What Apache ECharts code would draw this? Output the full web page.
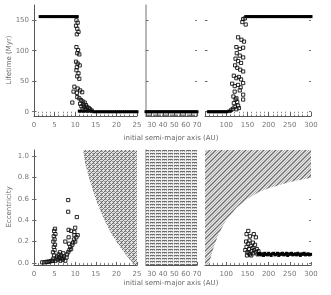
<!DOCTYPE html>
<html><head><meta charset="utf-8">
<script src="https://cdn.jsdelivr.net/npm/echarts@6/dist/echarts.min.js"></script>
<style>html,body{margin:0;padding:0;background:#fff}#c{width:331px;height:295px}</style>
</head><body><div id="c"></div>
<script>
// ---------- data ----------
const lifeTicks = [0, 50, 100, 150];
const eccTicks = [0, 0.2, 0.4, 0.6, 0.8, 1.0];
const xRanges = [[0, 25], [25, 70], [50, 300]];

// lifetime (Myr) vs initial a (AU): saturated runs (dense, drawn solid)
const life1Run = [
[1.5,156],[2,156],[2.5,156],[3,156],[3.5,156],[4,156],[4.5,156],[5,156],[5.5,156],[6,156],[6.5,156],[7,156],[7.5,156],[8,156],[8.5,156],[9,156],[9.5,156],[10,156],[10.5,156],
[11,1],[11.5,1],[12,1],[12.5,1],[13,1],[13.5,1],[14,1],[14.5,0],[15,0],[15.5,0],[16,0],[16.5,0],[17,0],[17.5,0],[18,0],[18.5,0],[19,0],[19.5,0],[20,0],[20.5,0],[21,0],[21.5,0],[22,0],[22.5,0],[23,0],[23.5,0],[24,0],[24.5,0],[25,0]
];
// left panel, individual runs
const life1 = [
[10.3,150],[10.6,146],[10.2,141],[10.5,136],[10.8,131],[10.4,127],
[10.3,106],[10.7,101],[10.5,96],[11.0,94],
[10.2,82],[10.6,79],[11.1,76],[10.4,73],
[10.3,68],[10.8,63],[10.5,58],[11.0,54],
[9.8,41],[10.6,38],[11.2,35],[10.4,31],[11.7,32],
[9.3,15],[9.6,33],[10.5,24],[11.0,22],[11.4,19],[11.8,17],[12.3,15],[11.2,13],[12.0,12],[12.6,11],[11.5,9],[12.2,8],[12.9,8],[13.3,6],[11.8,5],[12.5,4],[13.0,3],[13.6,4],[14.0,2]
];
// middle panel
const life2Run = [
[25,0],[26.5,0],[28,0],[29.5,0],[31,0],[32.5,0],[34,0],[35.5,0],[37,0],[38.5,0],[40,0],[41.5,0],[43,0],[44.5,0],[46,0],[47.5,0],[49,0],[50.5,0],[52,0],[53.5,0],[55,0],[56.5,0],[58,0],[59.5,0],[61,0],[62.5,0],[64,0],[65.5,0],[67,0],[68.5,0],[70,0]
];
// right panel
const life3Run = [
[58,0],[62,0],[66,0],[70,0],[74,0],[78,0],[82,0],[86,0],[90,0],[94,0],[98,0],[102,0],[106,1],[110,1],
[146,156],[150,156],[154,156],[158,156],[162,156],[166,156],[170,156],[174,156],[178,156],[182,156],[186,156],[190,156],[194,156],[198,156],[202,156],[206,156],[210,156],[214,156],[218,156],[222,156],[226,156],[230,156],[234,156],[238,156],[242,156],[246,156],[250,156],[254,156],[258,156],[262,156],[266,156],[270,156],[274,156],[278,156],[282,156],[286,156],[290,156],[294,156],[298,156],[300,156]
];
const life3 = [
[112,3],[116,5],[120,8],[124,4],[128,10],[118,14],[126,16],[122,20],[130,6],
[117,25],[124,22],[140,28],[140,20],[120,33],[132,35],
[114,46],[120,42],[128,44],[134,40],[140,47],
[118,59],[124,55],[130,57],[135,53],
[121,76],[126,72],[133,69],[140,66],
[122,87],[128,83],[135,80],
[125,96],[132,92],[140,89],
[124,106],[132,103],[140,105],
[128,122],[136,118],[142,115],
[138,147],[146,143],[140,152],[144,153]
];

// final eccentricity vs initial a
const ecc1 = [
[2,0.005],[2.5,0.005],[3,0.01],[3.3,0.008],[3.6,0.012],[4,0.015],[4.3,0.02],[4.6,0.02],
[4.7,0.04],[4.9,0.07],[4.6,0.1],[5.0,0.12],[4.8,0.15],[5.1,0.17],[4.7,0.2],[5.0,0.22],[4.8,0.25],[5.2,0.27],[4.9,0.3],[5.1,0.32],
[5.2,0.02],[5.5,0.04],[5.8,0.03],[6.1,0.05],[6.4,0.02],[6.7,0.04],[7.0,0.03],[7.3,0.06],[7.6,0.02],[7.9,0.05],[5.6,0.06],[6.0,0.08],[6.3,0.1],[6.6,0.07],[7.1,0.09],[6.9,0.05],
[8.0,0.08],[8.3,0.1],[8.6,0.12],[8.8,0.15],[9.0,0.13],[9.3,0.17],[9.5,0.19],[9.7,0.22],[10.0,0.2],[10.3,0.24],[10.6,0.26],[8.5,0.18],[9.8,0.26],
[8.3,0.59],[8.3,0.48],[10.4,0.43],[8.4,0.31],[9.8,0.29],[9.0,0.3],[10.0,0.33],[7.6,0.2],[8.4,0.24]
];
const ecc3 = [
[145,0.12],[148,0.15],[150,0.1],[152,0.18],[154,0.13],[156,0.08],[158,0.16],[160,0.11],[162,0.14],[164,0.09],[166,0.12],[168,0.17],[170,0.1],[172,0.13],
[147,0.2],[155,0.21],[149,0.07],[159,0.07],[163,0.19],[174,0.08],[176,0.11],[153,0.09],
[148,0.27],[152,0.3],[156,0.25],[165,0.27],[170,0.24]
];
const ecc3Run = [
[176,0.08],[179,0.09],[182,0.075],[185,0.085],[188,0.07],[191,0.09],[194,0.08],[197,0.075],[200,0.09],[203,0.08],[206,0.07],[209,0.085],[212,0.09],[215,0.075],[218,0.08],[221,0.09],[224,0.07],[227,0.085],[230,0.08],[233,0.09],[236,0.075],[239,0.08],[242,0.09],[245,0.07],[248,0.085],[251,0.08],[254,0.09],[257,0.075],[260,0.08],[263,0.085],[266,0.075],[269,0.09],[272,0.08],[275,0.07],[278,0.085],[281,0.08],[284,0.09],[287,0.075],[290,0.08],[293,0.085],[296,0.075],[299,0.08]
];

// excluded (hatched) regions, as (a, e) outlines
const hatch1 = [[11.9,1.06],[12.5,0.92],[13.5,0.78],[15,0.6],[16,0.5],[17.5,0.37],[19,0.26],[20.5,0.17],[22,0.09],[23.5,0.02],[24.2,-0.02],[25,-0.02],[25,1.06]];
const hatch2 = [[25,-0.02],[70,-0.02],[70,1.06],[25,1.06]];
const hatch3 = [[50,1.06],[50,-0.02],[59,-0.02],[60,0],[70,0.14],[80,0.25],[90,0.33],[100,0.4],[125,0.52],[150,0.6],[175,0.66],[200,0.7],[250,0.76],[300,0.8],[300,1.06]];

// ---------- patterns ----------
function pat(w, h, draw) {
  const c = document.createElement('canvas'); c.width = w; c.height = h;
  draw(c.getContext('2d')); return { image: c, repeat: 'repeat' };
}
const patA = pat(4, 4, g => {
  g.fillStyle = '#e2e2e2'; g.fillRect(0, 0, 4, 4);
  g.fillStyle = '#9c9c9c';
  g.fillRect(0, 1, 3, 1); g.fillRect(1, 3, 2, 1);
  g.fillStyle = '#6a6a6a';
  g.fillRect(3, 0, 1, 1); g.fillRect(2, 1, 1, 1); g.fillRect(1, 2, 1, 1); g.fillRect(0, 3, 1, 1);
});
const patB = pat(6, 3, g => {
  g.fillStyle = '#eeeeee'; g.fillRect(0, 0, 6, 3);
  g.fillStyle = '#6e6e6e'; g.fillRect(0, 0, 5, 1);
  g.fillStyle = '#b4b4b4'; g.fillRect(0, 1, 1, 1); g.fillRect(2, 1, 1, 1); g.fillRect(4, 1, 1, 1);
});
const patC = pat(6, 6, g => {
  g.fillStyle = '#ececec'; g.fillRect(0, 0, 6, 6);
  g.fillStyle = '#b0b0b0';
  for (let y = 0; y < 6; y += 1) for (let x = y % 2; x < 6; x += 2) g.fillRect(x, y, 1, 1);
  g.fillStyle = '#6e6e6e';
  for (let i = 0; i < 6; i++) g.fillRect(5 - i, i, 1, 1);
});

// ---------- layout ----------
const font = 'DejaVu Sans';
const lab = { fontFamily: font, fontSize: 7, color: '#777' };
const cols = [{ left: 34, width: 103 }, { left: 146, width: 51 }, { left: 205, width: 106 }];
const rows = [{ top: 5, height: 111, min: -7, max: 175, ticks: lifeTicks }, { top: 150, height: 115, min: -0.02, max: 1.06, ticks: eccTicks }];
const grids = [], xAxes = [], yAxes = [], series = [];
const xIntervals = [5, 5, 50];
const xMinor = [5, 5, 5];
rows.forEach((r, ri) => cols.forEach((c, ci) => {
  const gi = ri * 3 + ci;
  grids.push({ left: c.left, width: c.width, top: r.top, height: r.height });
  xAxes.push({
    gridIndex: gi, type: 'value', min: xRanges[ci][0], max: xRanges[ci][1], interval: xIntervals[ci],
    axisLine: { show: true, onZero: false, lineStyle: { color: '#555', width: 1 } },
    axisTick: { inside: true, length: 3, lineStyle: { color: '#555' } },
    minorTick: { show: true, splitNumber: xMinor[ci], length: 1.5, lineStyle: { color: '#777' } },
    splitLine: { show: false },
    axisLabel: Object.assign({ margin: 6, formatter: v => (ci === 1 && v % 10 !== 0) || (ci === 2 && v === 50) ? '' : String(v) }, lab)
  });
  yAxes.push({
    gridIndex: gi, type: 'value', min: r.min, max: r.max,
    axisLine: { show: ci !== 2, onZero: false, lineStyle: { color: ci === 0 ? '#555' : '#a0a0a0', width: ci === 0 ? 1 : 1.5 } },
    axisTick: { show: true, inside: true, length: 2.5, customValues: r.ticks, lineStyle: { color: '#666' } },
    splitLine: { show: false },
    axisLabel: Object.assign({ show: ci === 0, margin: 5, customValues: r.ticks, formatter: v => ri === 1 ? v.toFixed(1) : String(v) }, lab)
  });
}));
// mirrored ticks on top and right edges
rows.forEach((r, ri) => cols.forEach((c, ci) => {
  const gi = ri * 3 + ci;
  xAxes.push({
    gridIndex: gi, type: 'value', position: 'top', min: xRanges[ci][0], max: xRanges[ci][1], interval: xIntervals[ci],
    axisLine: { show: false }, axisLabel: { show: false }, splitLine: { show: false },
    axisTick: { inside: true, length: 2.5, lineStyle: { color: '#666' } },
    minorTick: { show: true, splitNumber: xMinor[ci], length: 1.5, lineStyle: { color: '#888' } }
  });
  yAxes.push({
    gridIndex: gi, type: 'value', position: 'right', min: r.min, max: r.max,
    axisLine: { show: false }, axisLabel: { show: false }, splitLine: { show: false },
    axisTick: { show: true, inside: true, length: 2, customValues: r.ticks, lineStyle: { color: '#777' } }
  });
}));

function region(gi, pts, fill) {
  return {
    type: 'custom', xAxisIndex: gi, yAxisIndex: gi, silent: true, z: 1, clip: true,
    data: [pts[0]],
    renderItem: (params, api) => ({
      type: 'polygon',
      shape: { points: pts.map(p => api.coord(p)) },
      style: { fill: fill, stroke: null }
    })
  };
}
function open(gi, data) {
  return { type: 'scatter', symbol: 'rect', symbolSize: 3.2, silent: true, z: 3, xAxisIndex: gi, yAxisIndex: gi, data: data,
    itemStyle: { color: 'rgba(0,0,0,0)', borderColor: '#111', borderWidth: 0.9, opacity: 1 } };
}
function solid(gi, data) {
  return { type: 'scatter', symbol: 'rect', symbolSize: 3, silent: true, z: 3, xAxisIndex: gi, yAxisIndex: gi, data: data,
    itemStyle: { color: '#000', borderWidth: 0, opacity: 1 } };
}

series.push(solid(0, life1Run), open(0, life1), solid(1, life2Run), solid(2, life3Run), open(2, life3));
series.push(region(3, hatch1, patA), region(4, hatch2, patB), region(5, hatch3, patC));
series.push(open(3, ecc1), open(5, ecc3), solid(5, ecc3Run));

const chart = echarts.init(document.getElementById('c'), null, { renderer: 'canvas' });
const ts = Object.assign({}, lab, { fill: '#666', align: 'center', verticalAlign: 'middle' });
chart.setOption({
  animation: false,
  backgroundColor: '#fff',
  grid: grids, xAxis: xAxes, yAxis: yAxes, series: series,
  graphic: [
    { type: 'text', x: 9, y: 60, rotation: Math.PI / 2, style: Object.assign({ text: 'Lifetime (Myr)' }, ts) },
    { type: 'text', x: 9, y: 207, rotation: Math.PI / 2, style: Object.assign({ text: 'Eccentricity' }, ts) },
    { type: 'text', x: 171, y: 138, style: Object.assign({ text: 'initial semi-major axis (AU)' }, ts) },
    { type: 'text', x: 171, y: 283, style: Object.assign({ text: 'initial semi-major axis (AU)' }, ts) }
  ]
});
</script>
</body></html>
